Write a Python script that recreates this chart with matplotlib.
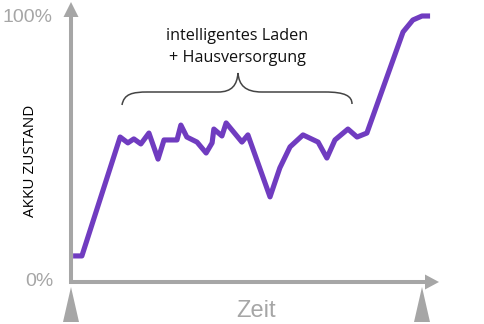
import matplotlib.pyplot as plt
from matplotlib.path import Path
from matplotlib.patches import PathPatch, Polygon

# Battery state over time (time in % of the shown period, state of charge in %)
zeit = [0.6, 3.1, 14.0, 16.2, 17.9, 19.9, 22.2, 24.8, 26.5, 30.2, 31.3, 33.0,
        35.9, 38.5, 40.2, 40.7, 43.0, 44.2, 48.7, 50.4, 56.7, 59.5, 62.4, 66.1,
        70.4, 72.9, 75.2, 78.9, 81.5, 84.3, 94.6, 97.4, 100.0, 102.3]
akku = [9.8, 9.8, 54.5, 52.3, 53.8, 51.9, 56.0, 46.2, 53.4, 53.4, 59.0, 54.5,
        52.6, 48.5, 52.3, 57.5, 54.9, 59.8, 52.6, 55.3, 32.0, 42.9, 50.8, 55.3,
        52.6, 46.6, 53.4, 57.5, 54.5, 56.0, 94.0, 98.5, 100.0, 100.0]

y_labels = ['0%', '100%']
x_label = 'Zeit'
y_title = 'AKKU ZUSTAND'
note = 'intelligentes Laden\n+ Hausversorgung'

grey = '#a6a6a6'
purple = '#703cc0'

W, H = 484, 324
fig = plt.figure(figsize=(W / 100, H / 100), dpi=100)

# overlay in pixel coordinates for the hand-drawn axes, labels and brace
deco = fig.add_axes([0, 0, 1, 1])
deco.set_xlim(0, W)
deco.set_ylim(H, 0)
deco.axis('off')

# y axis arrow
deco.plot([71, 71], [284, 14], color=grey, lw=2.9, solid_capstyle='butt')
deco.add_patch(Polygon([(63.5, 17), (78.5, 17), (71, 2)], closed=True, color=grey, lw=0))
# x axis arrow
deco.plot([69, 427], [282, 282], color=grey, lw=2.9, solid_capstyle='butt')
deco.add_patch(Polygon([(425, 274.5), (425, 289.5), (439, 282)], closed=True, color=grey, lw=0))
# start / end markers
for xm in (71, 422):
    deco.add_patch(Polygon([(xm - 8, 322), (xm + 8, 322), (xm, 287)], closed=True, color=grey, lw=0))

deco.text(53, 17, y_labels[1], ha='right', va='center', color=grey,
          fontsize=14, family='Liberation Sans')
deco.text(53, 282, y_labels[0], ha='right', va='center', color=grey,
          fontsize=14, family='Liberation Sans')
deco.text(256, 311, x_label, ha='center', va='center', color=grey,
          fontsize=17, family='Liberation Sans')
deco.text(31, 161, y_title, ha='center', va='center', rotation=90,
          color='black', fontsize=11, family='Open Sans')

deco.text(237, 47, note, ha='center', va='center', color='#111111',
          fontsize=11.6, family='Open Sans', linespacing=1.45)

# curly brace
verts = [(122, 105), (124, 94), (132, 92), (148, 92),
         (218, 92),
         (232, 92), (237, 85), (238, 73),
         (239, 85), (245, 92), (262, 92),
         (325, 92),
         (345, 92), (352, 96), (352, 104)]
codes = [Path.MOVETO, Path.CURVE4, Path.CURVE4, Path.CURVE4,
         Path.LINETO,
         Path.CURVE4, Path.CURVE4, Path.CURVE4,
         Path.CURVE4, Path.CURVE4, Path.CURVE4,
         Path.LINETO,
         Path.CURVE4, Path.CURVE4, Path.CURVE4]
deco.add_patch(PathPatch(Path(verts, codes), facecolor='none', edgecolor='#444444', lw=1.1))

# data axes: 0..100 in both directions
ax = fig.add_axes([71 / W, 42 / H, 351 / W, 266 / H])
ax.set_xlim(0, 100)
ax.set_ylim(0, 100)
ax.patch.set_alpha(0)
ax.axis('off')
ax.plot(zeit, akku, color=purple, lw=3.7, solid_joinstyle='round',
        solid_capstyle='butt', clip_on=False)

fig.savefig('out.png', dpi=100)
